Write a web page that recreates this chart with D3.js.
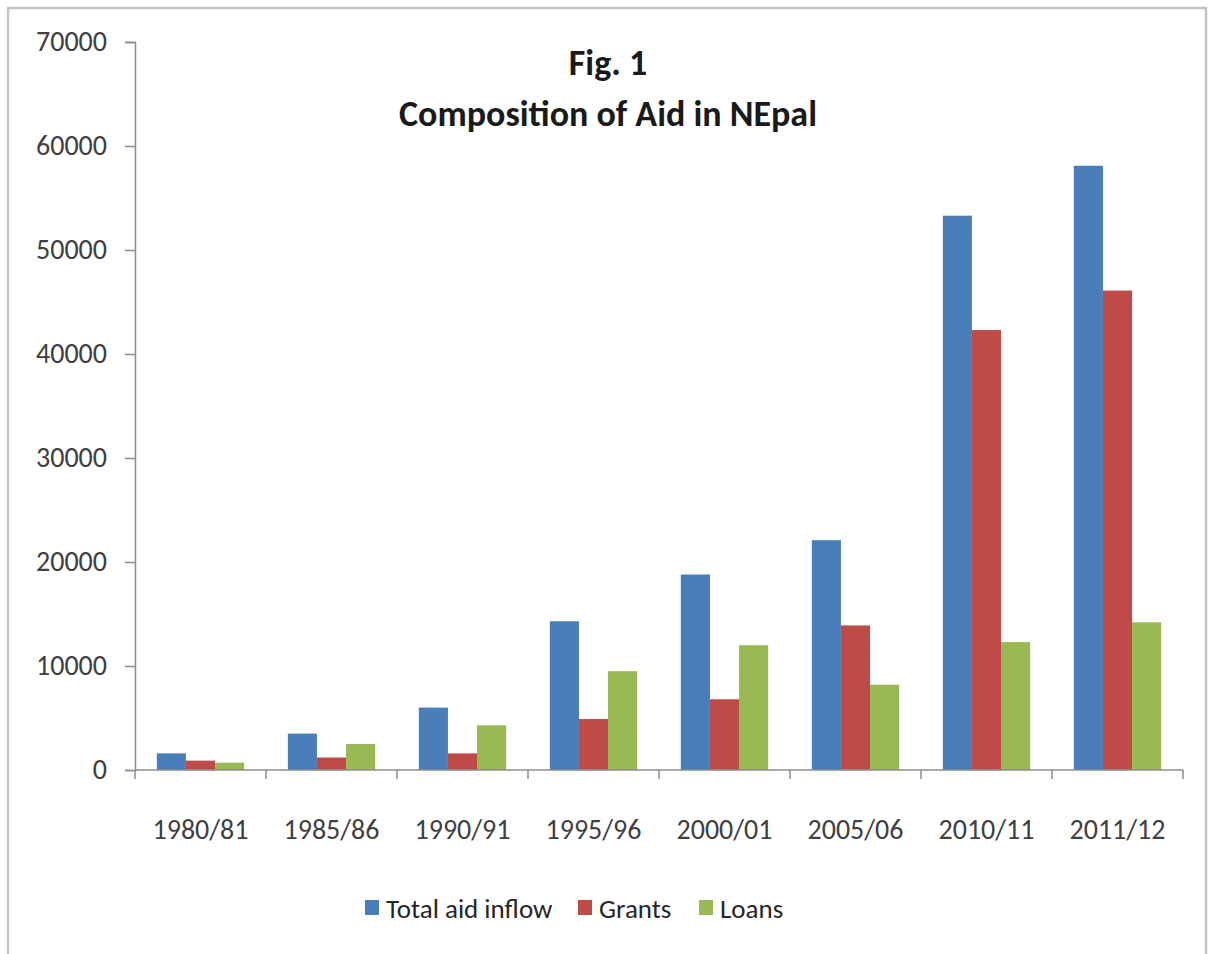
<!DOCTYPE html>
<html>
<head>
<meta charset="utf-8">
<script src="https://cdn.jsdelivr.net/npm/d3@7"></script>
<style>
  body { margin: 0; background: #fff; }
  svg { display: block; }
  text { font-family: Carlito, Lato, "Open Sans", sans-serif; }
</style>
</head>
<body>
<svg id="chart"></svg>
<script>
const categories = ["1980/81", "1985/86", "1990/91", "1995/96", "2000/01", "2005/06", "2010/11", "2011/12"];
const seriesNames = ["Total aid inflow", "Grants", "Loans"];
const totalAid = [1600, 3500, 6000, 14300, 18800, 22100, 53300, 58100];
const grants = [900, 1200, 1600, 4900, 6800, 13900, 42300, 46100];
const loans = [700, 2500, 4300, 9500, 12000, 8200, 12300, 14200];
const yTicks = [0, 10000, 20000, 30000, 40000, 50000, 60000, 70000];
const colors = ["#4a7ebb", "#be4b48", "#98b954"];

const width = 1208, height = 954;
const svg = d3.select("#chart").attr("width", width).attr("height", height);

// frame
svg.append("path")
  .attr("d", `M8,954 V8 H1206 V954`)
  .attr("fill", "none")
  .attr("stroke", "#c4c4c4")
  .attr("stroke-width", 2.5);

const plot = { left: 135, right: 1183, top: 42, bottom: 770 };

const x0 = d3.scaleBand().domain(categories).range([plot.left, plot.right]);
// gap of 1.5 bar widths between groups
const x1 = d3.scaleBand().domain(seriesNames)
  .range([0, x0.bandwidth()]).paddingOuter(0.75).paddingInner(0);
const y = d3.scaleLinear().domain([0, 70000]).range([plot.bottom, plot.top]);

const data = categories.map((c, i) => ({
  cat: c, values: [totalAid[i], grants[i], loans[i]]
}));

// bars
const groups = svg.append("g").selectAll("g")
  .data(data).join("g")
  .attr("transform", d => `translate(${x0(d.cat)},0)`);
groups.selectAll("rect")
  .data(d => d.values.map((v, j) => ({ name: seriesNames[j], v, j })))
  .join("rect")
  .attr("x", d => x1(d.name))
  .attr("width", x1.bandwidth())
  .attr("y", d => y(d.v))
  .attr("height", d => y(0) - y(d.v))
  .attr("fill", d => colors[d.j]);

// y axis
const yAxis = svg.append("g")
  .attr("transform", `translate(${plot.left},0)`)
  .call(d3.axisLeft(y).tickValues(yTicks).tickFormat(d3.format("d")).tickSize(10).tickPadding(18));
yAxis.select(".domain").attr("stroke", "#8c8c8c").attr("stroke-width", 1.5);
yAxis.selectAll(".tick line").attr("stroke", "#8c8c8c").attr("stroke-width", 1.5);
yAxis.selectAll(".tick text")
  .attr("font-size", 28).attr("fill", "#404040")
  .style("font-family", "Carlito, Lato, 'Open Sans', sans-serif");

// x axis with ticks at band boundaries
const xAxisG = svg.append("g").attr("transform", `translate(0,${plot.bottom})`);
xAxisG.append("line")
  .attr("x1", plot.left).attr("x2", plot.right)
  .attr("stroke", "#8c8c8c").attr("stroke-width", 1.5);
const boundaries = categories.map(c => x0(c)).concat([x0.range()[1]]);
xAxisG.selectAll("line.tk").data(boundaries).join("line")
  .attr("class", "tk")
  .attr("x1", d => d).attr("x2", d => d)
  .attr("y1", 0).attr("y2", 9)
  .attr("stroke", "#8c8c8c").attr("stroke-width", 1.5);
xAxisG.selectAll("text").data(categories).join("text")
  .attr("x", d => x0(d) + x0.bandwidth() / 2)
  .attr("y", 69)
  .attr("text-anchor", "middle")
  .attr("font-size", 28)
  .attr("fill", "#404040")
  .text(d => d);

// title
svg.append("text")
  .attr("x", 608).attr("y", 75)
  .attr("text-anchor", "middle")
  .attr("font-size", 36).attr("font-weight", "bold").attr("fill", "#1a1a1a")
  .text("Fig. 1");
svg.append("text")
  .attr("x", 608).attr("y", 126)
  .attr("text-anchor", "middle")
  .attr("font-size", 36).attr("font-weight", "bold").attr("fill", "#1a1a1a")
  .text("Composition of Aid in NEpal");

// legend
const legendX = [365, 578, 699];
const legend = svg.append("g").selectAll("g")
  .data(seriesNames).join("g")
  .attr("transform", (d, i) => `translate(${legendX[i]},900)`);
legend.append("rect")
  .attr("width", 14).attr("height", 15)
  .attr("fill", (d, i) => colors[i]);
legend.append("text")
  .attr("x", 21).attr("y", 18)
  .attr("font-size", 27).attr("fill", "#262626")
  .text(d => d);
</script>
</body>
</html>
